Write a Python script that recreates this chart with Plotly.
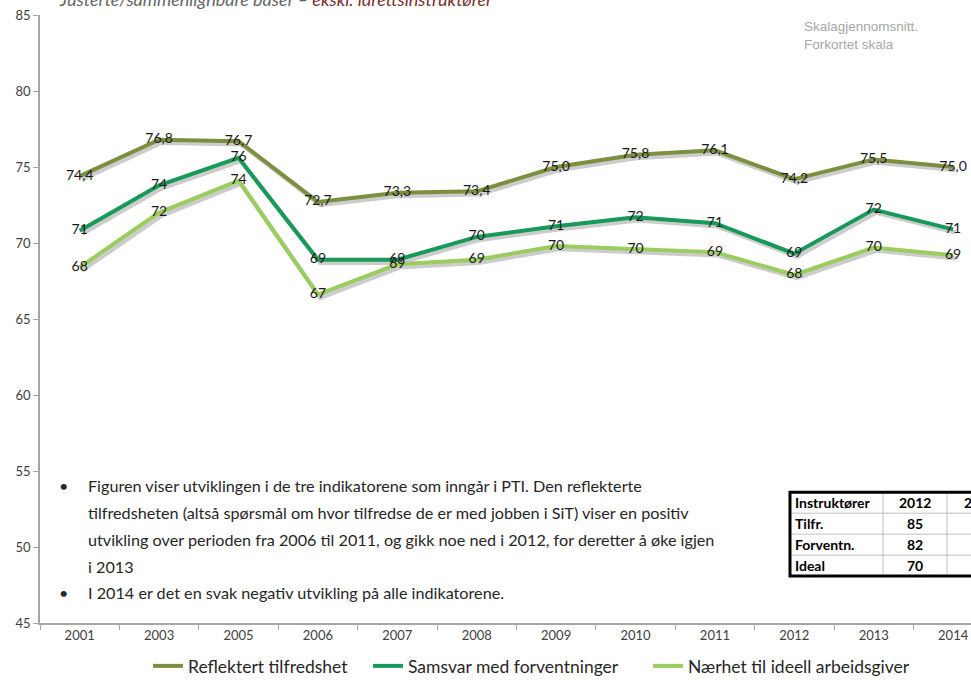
import plotly.graph_objects as go

# data
years = ['2001', '2003', '2005', '2006', '2007', '2008', '2009', '2010', '2011', '2012', '2013', '2014']
reflektert = [74.4, 76.8, 76.7, 72.7, 73.3, 73.4, 75.0, 75.8, 76.1, 74.2, 75.5, 75.0]
samsvar = [70.8, 73.8, 75.6, 68.9, 68.9, 70.4, 71.1, 71.7, 71.3, 69.3, 72.2, 70.9]
naerhet = [68.4, 72.0, 74.1, 66.6, 68.6, 68.9, 69.8, 69.6, 69.4, 67.9, 69.7, 69.2]
names = ['Reflektert tilfredshet', 'Samsvar med forventninger', 'Nærhet til ideell arbeidsgiver']

table_header = ['Instruktører', '2012', '2013']
table_rows = ['Tilfr.', 'Forventn.', 'Ideal']
table_2012 = [85, 82, 70]

bullet_1 = ['Figuren viser utviklingen i de tre indikatorene som inngår i PTI. Den reflekterte',
            'tilfredsheten (altså spørsmål om hvor tilfredse de er med jobben i SiT) viser en positiv',
            'utvikling over perioden fra 2006 til 2011, og gikk noe ned i 2012, for deretter å øke igjen',
            'i 2013']
bullet_2 = 'I 2014 er det en svak negativ utvikling på alle indikatorene.'

colors = ['#7B8F3F', '#17995A', '#9ACD5E']
FONT = 'Lato, Liberation Sans, sans-serif'

# plot area in pixels
W, H = 971, 684
L, R, T, B = 40, 0, 15, 60
PW, PH = W - L - R, H - T - B


def px(x):
    return (x - L) / PW


def py(y):
    return (H - B - y) / PH


xr = [-0.5, 11.225]
yr = [45, 85]
sx, sy = 0.03, 0.2   # shadow offset (axis units)

fig = go.Figure()

series = [reflektert, samsvar, naerhet]
labels = [[f'{v:.1f}'.replace('.', ',') for v in reflektert],
          [f'{v:.0f}' for v in samsvar],
          [f'{v:.0f}' for v in naerhet]]

# shadows (bottom axes, shifted range)
for s in series:
    fig.add_trace(go.Scatter(x=years, y=s, mode='lines', xaxis='x', yaxis='y',
                             line=dict(color='rgba(0,0,0,0.2)', width=4.5),
                             hoverinfo='skip', showlegend=False))

# main lines, each with its own legend box
leg_ids = ['legend', 'legend2', 'legend3']
for s, lab, c, n, lg in zip(series, labels, colors, names, leg_ids):
    fig.add_trace(go.Scatter(x=years, y=s, mode='lines+text', xaxis='x2', yaxis='y2',
                             name=n, text=lab, textposition='middle center', legend=lg,
                             textfont=dict(size=14, color='#1a1a1a', family=FONT),
                             line=dict(color=c, width=4), cliponaxis=False))

ann = []
# title (cut at top)
ann.append(dict(x=px(57), y=py(-1), xref='paper', yref='paper', xanchor='left', yanchor='middle',
                showarrow=False,
                text="<i>Justerte/sammenlignbare baser – <span style='color:#7A3030'>ekskl. idrettsinstruktører</span></i>",
                font=dict(size=18, color='#666666', family=FONT)))
ann.append(dict(x=px(802), y=py(36), xref='paper', yref='paper', xanchor='left', yanchor='middle',
                showarrow=False, text='Skalagjennomsnitt.<br>Forkortet skala', align='left',
                font=dict(size=13.5, color='#A6A6A6', family='Liberation Sans, Arial')))

# bullet text
TFONT = dict(size=16.2, color='#262626', family=FONT)
line_y = [486, 513, 540, 567]
for t, yy in zip(bullet_1, line_y):
    ann.append(dict(x=px(86), y=py(yy), xref='paper', yref='paper', xanchor='left', yanchor='middle',
                    showarrow=False, text=t, font=TFONT))
ann.append(dict(x=px(86), y=py(593), xref='paper', yref='paper', xanchor='left', yanchor='middle',
                showarrow=False, text=bullet_2, font=TFONT))
for yy in [486, 593]:
    ann.append(dict(x=px(63), y=py(yy), xref='paper', yref='paper', xanchor='center', yanchor='middle',
                    showarrow=False, text='•', font=TFONT))

# table
tx0, tx1, tx2 = 790, 883, 947
ty = [493, 514, 535, 556, 577]
shapes = []
for yy in ty[1:-1]:
    shapes.append(dict(type='line', xref='paper', yref='paper', x0=px(tx0), x1=px(1000),
                       y0=py(yy), y1=py(yy), line=dict(color='#BFBFBF', width=1)))
for xx in [tx1, tx2]:
    shapes.append(dict(type='line', xref='paper', yref='paper', x0=px(xx), x1=px(xx),
                       y0=py(ty[0]), y1=py(ty[-1]), line=dict(color='#BFBFBF', width=1)))
shapes.append(dict(type='rect', xref='paper', yref='paper', x0=px(tx0), x1=px(1000),
                   y0=py(ty[0]), y1=py(ty[-1]), line=dict(color='black', width=3)))

tfont = dict(size=14, color='black', family=FONT)
rows = [table_header] + [[r, str(v), ''] for r, v in zip(table_rows, table_2012)]
for i, row in enumerate(rows):
    yc = (ty[i] + ty[i + 1]) / 2
    ann.append(dict(x=px(tx0 + 3), y=py(yc), xref='paper', yref='paper', xanchor='left',
                    yanchor='middle', showarrow=False, text=f'<b>{row[0]}</b>', font=tfont))
    ann.append(dict(x=px((tx1 + tx2) / 2), y=py(yc), xref='paper', yref='paper', xanchor='center',
                    yanchor='middle', showarrow=False, text=f'<b>{row[1]}</b>', font=tfont))
    if row[2]:
        ann.append(dict(x=px(980), y=py(yc), xref='paper', yref='paper', xanchor='center',
                        yanchor='middle', showarrow=False, text=f'<b>{row[2]}</b>', font=tfont))

legend_style = dict(orientation='h', xanchor='left', y=py(667), yanchor='middle', itemwidth=30,
                    font=dict(size=17.5, color='#262626', family=FONT), bgcolor='rgba(0,0,0,0)')

fig.update_layout(
    width=W, height=H,
    margin=dict(l=L, r=R, t=T, b=B),
    paper_bgcolor='white', plot_bgcolor='white',
    showlegend=True,
    legend=dict(x=px(148), **legend_style),
    legend2=dict(x=px(368), **legend_style),
    legend3=dict(x=px(648), **legend_style),
    xaxis=dict(type='category', range=[xr[0] - sx, xr[1] - sx], visible=False),
    yaxis=dict(range=[yr[0] + sy, yr[1] + sy], visible=False),
    xaxis2=dict(type='category', overlaying='x', anchor='y2', side='bottom', range=xr,
                showline=True, linecolor='#A6A6A6', linewidth=1.5, ticks='outside',
                tickson='boundaries', ticklen=5, tickcolor='#A6A6A6', showgrid=False,
                tickfont=dict(size=13, color='#404040', family=FONT)),
    yaxis2=dict(overlaying='y', anchor='x2', side='left', range=yr, dtick=5,
                showline=True, linecolor='#A6A6A6', linewidth=1.5, ticks='outside',
                ticklen=5, tickcolor='#A6A6A6', showgrid=False, zeroline=False,
                tickfont=dict(size=13, color='#404040', family=FONT)),
    annotations=ann,
    shapes=shapes,
)

fig.write_html('out.html', config={'displayModeBar': False},
               post_script="document.body.style.margin='0';")
